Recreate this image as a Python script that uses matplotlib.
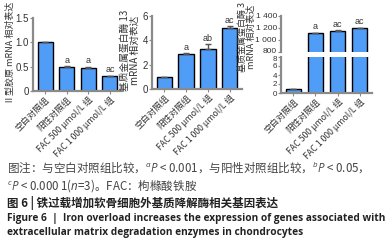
import matplotlib
matplotlib.use("Agg")
import matplotlib.pyplot as plt
import matplotlib.transforms as mtransforms
import numpy as np

plt.rcParams['font.family'] = ['Noto Sans CJK SC', 'DejaVu Sans']
plt.rcParams['mathtext.fontset'] = 'custom'
plt.rcParams['mathtext.rm'] = 'Open Sans'
plt.rcParams['mathtext.it'] = 'Open Sans:italic'

groups = ["空白对照组", "阳性对照组", "FAC 500 μmol/L 组", "FAC 1 000 μmol/L 组"]

col2_vals = [1.0, 0.50, 0.47, 0.30]
col2_err = [0.0, 0.01, 0.03, 0.01]
col2_sig = ["", "a", "a", "ac"]

mmp13_vals = [1.0, 2.85, 3.28, 5.0]
mmp13_err = [0.0, 0.08, 0.40, 0.15]
mmp13_sig = ["", "a", "ab", "ac"]

mmp3_vals = [1.0, 1110, 1150, 1190]
mmp3_err = [0.0, 5, 5, 5]
mmp3_sig = ["", "a", "ac", "ac"]

W, H = 385, 248
BLUE = "#4F9DF7"
SPINE = "#8a8a8a"
TXT = "#333333"
NUMFONT = ["Liberation Sans Narrow", "Liberation Sans", "DejaVu Sans"]
fig = plt.figure(figsize=(W / 100, H / 100), dpi=100)


def box(x0, y0, x1, y1):
    return [x0 / W, 1 - y1 / H, (x1 - x0) / W, (y1 - y0) / H]


def style(ax, bottom=True, ls=7):
    for s in ["top", "right"]:
        ax.spines[s].set_visible(False)
    ax.spines["left"].set_color(SPINE)
    ax.spines["left"].set_linewidth(1.6)
    if bottom:
        ax.spines["bottom"].set_color(SPINE)
        ax.spines["bottom"].set_linewidth(1.6)
    else:
        ax.spines["bottom"].set_visible(False)
    ax.tick_params(axis="y", length=2, width=0.8, color=SPINE, pad=1,
                   labelsize=ls, labelcolor=TXT)
    ax.tick_params(axis="x", length=2, width=0.8, color=SPINE, pad=1)
    for t in ax.get_yticklabels():
        t.set_family(NUMFONT)


def bars(ax, vals, err, sig, off, show_sig=True):
    x = np.arange(len(vals))
    ax.bar(x, vals, width=0.7, color=BLUE, edgecolor="black", linewidth=1.0,
           yerr=[np.zeros(len(err)), err], capsize=2.5,
           error_kw=dict(ecolor="#555555", elinewidth=1.0, capthick=1.0))
    ax.set_xlim(-0.56, 3.56)
    if show_sig:
        for xi, v, e, s in zip(x, vals, err, sig):
            if s:
                ax.text(xi, v + e + off, s, ha="center", va="bottom",
                        fontsize=6.5, color=TXT,
                        family=["Liberation Sans", "DejaVu Sans"])


def xlabels(ax):
    ax.set_xticks(np.arange(len(groups)))
    ax.set_xticklabels(groups, rotation=45, ha="right", rotation_mode="anchor",
                       fontsize=6.3, color=TXT)


def nudge(label, dy_px):
    label.set_transform(label.get_transform() +
                        mtransforms.ScaledTranslation(0, dy_px / 100, fig.dpi_scale_trans))


# panel 1
ax1 = fig.add_axes(box(33, 18, 122, 91))
bars(ax1, col2_vals, col2_err, col2_sig, 0.03)
ax1.set_ylim(0, 1.5)
ax1.set_yticks([0, 0.5, 1.0, 1.5])
ax1.set_yticklabels(["0", "0.5", "1.0", "1.5"])
style(ax1)
xlabels(ax1)
fig.text(10 / W, 1 - 53 / H, "Ⅱ型胶原 mRNA 相对表达", rotation=90, ha="center",
         va="center", fontsize=6.5, color=TXT)

# panel 2
ax2 = fig.add_axes(box(152, 16, 242, 89))
bars(ax2, mmp13_vals, mmp13_err, mmp13_sig, 0.08)
ax2.set_ylim(0, 6)
ax2.set_yticks([0, 2, 4, 6])
style(ax2)
xlabels(ax2)
fig.text(130 / W, 1 - 50 / H, "基质金属蛋白酶 13\nmRNA 相对表达", rotation=90,
         ha="center", va="center", fontsize=7, color=TXT, linespacing=1.0)

# panel 3 (broken axis)
ax3u = fig.add_axes(box(281, 15.7, 372, 51.7))
bars(ax3u, mmp3_vals, mmp3_err, mmp3_sig, 25)
ax3u.set_ylim(800, 1400)
ax3u.set_yticks([800, 1000, 1200, 1400])
ax3u.set_yticklabels(["800", "1 000", "1 200", "1 400"])
ax3u.set_xticks([])
style(ax3u, bottom=False, ls=6)
nudge(ax3u.get_yticklabels()[0], 1.5)

ax3l = fig.add_axes(box(281, 57, 372, 93))
bars(ax3l, mmp3_vals, mmp3_err, mmp3_sig, 0, show_sig=False)
ax3l.set_ylim(0, 8)
ax3l.set_yticks([0, 2, 4, 6, 8])
style(ax3l, ls=5.8)
nudge(ax3l.get_yticklabels()[-1], -1.5)
xlabels(ax3l)
fig.text(247 / W, 1 - 37 / H, "基质金属蛋白酶 3\nmRNA 相对表达", rotation=90,
         ha="center", va="center", fontsize=6.5, color=TXT, linespacing=1.0)

# caption
cap = 8.3
fig.text(7 / W, 1 - 168 / H,
         "图注：与空白对照组比较，$^{a}\\mathit{P}$ < 0.001，与阳性对照组比较，$^{b}\\mathit{P}$ < 0.05，",
         ha="left", va="center", fontsize=cap, color="#444444")
fig.text(7 / W, 1 - 186 / H,
         "$^{c}\\mathit{P}$ < 0.000 1($\\mathit{n}$=3)。FAC：枸橼酸铁胺",
         ha="left", va="center", fontsize=cap, color="#444444")
fig.text(7 / W, 1 - 203 / H, "图 6 | 铁过载增加软骨细胞外基质降解酶相关基因表达",
         ha="left", va="center", fontsize=cap, color="#222222", fontweight="bold")
fig.text(7 / W, 1 - 218 / H,
         "Figure 6  |  Iron overload increases the expression of genes associated with",
         ha="left", va="center", fontsize=7.3, color="#222222", fontweight="bold",
         family=["Open Sans", "DejaVu Sans"])
fig.text(7 / W, 1 - 233 / H,
         "extracellular matrix degradation enzymes in chondrocytes",
         ha="left", va="center", fontsize=7.3, color="#222222", fontweight="bold",
         family=["Open Sans", "DejaVu Sans"])

fig.savefig("out.png", dpi=100)
